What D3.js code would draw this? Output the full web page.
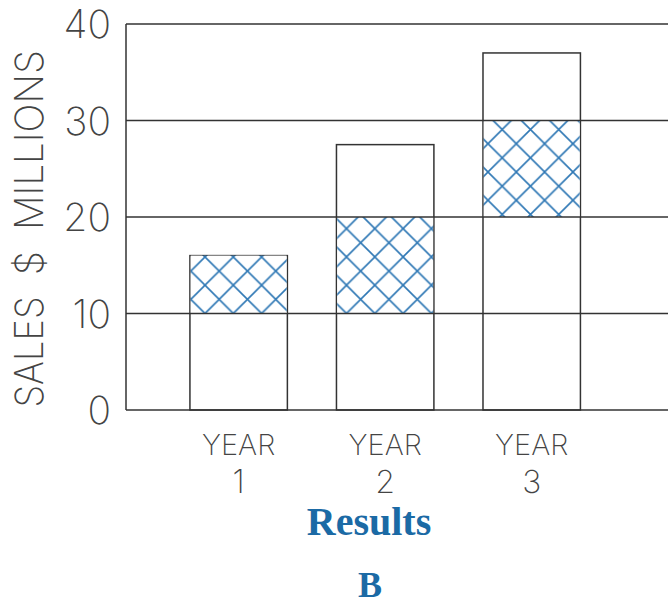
<!DOCTYPE html>
<html>
<head>
<meta charset="utf-8">
<script src="https://cdn.jsdelivr.net/npm/d3@7"></script>
<style>
  body { margin: 0; background: #fff; }
  svg { display: block; }
</style>
</head>
<body>
<div id="chart"></div>
<script>
// Chart data
const years = ["1", "2", "3"];
const totals = [16, 27.5, 37];
const hatchLow = [10, 10, 20];
const hatchHigh = [16, 20, 30];
const yTicks = [0, 10, 20, 30, 40];

const width = 668;
const height = 603;
const lineColor = "#333";
const hatchColor = "#2f78b5";
const blue = "#1b6aa5";
const thinFont = "Inter, Lato, 'DejaVu Sans', sans-serif";

const svg = d3.select("#chart")
    .append("svg")
    .attr("width", width)
    .attr("height", height);

// Scales
const x = d3.scaleBand()
    .domain(years)
    .range([126, 668])
    .paddingInner(0.335)
    .paddingOuter(0.517)
    .align(0.422);

const y = d3.scaleLinear()
    .domain([0, 40])
    .range([410, 24]);

// Cross hatch pattern
const s = 28.3;
const pat = svg.append("defs")
    .append("pattern")
    .attr("id", "hatch")
    .attr("patternUnits", "userSpaceOnUse")
    .attr("x", 205)
    .attr("y", y(10))
    .attr("width", s)
    .attr("height", s);
pat.append("rect").attr("width", s).attr("height", s).attr("fill", "#fff");
pat.append("path")
    .attr("d", `M-1,-1L${s + 1},${s + 1}M${s + 1},-1L-1,${s + 1}`)
    .attr("stroke", hatchColor)
    .attr("stroke-width", 1.6)
    .attr("fill", "none");

const rows = years.map((d, i) => ({ year: d, total: totals[i], lo: hatchLow[i], hi: hatchHigh[i] }));

// Bars (outline)
svg.selectAll(".bar")
    .data(rows)
    .enter()
    .append("rect")
    .attr("class", "bar")
    .attr("x", d => x(d.year))
    .attr("y", d => y(d.total))
    .attr("width", x.bandwidth())
    .attr("height", d => y(0) - y(d.total))
    .attr("fill", "#fff")
    .attr("stroke", lineColor)
    .attr("stroke-width", 1.5);

// Hatched segments
svg.selectAll(".hatch")
    .data(rows)
    .enter()
    .append("rect")
    .attr("class", "hatch")
    .attr("x", d => x(d.year) + 0.75)
    .attr("y", d => y(d.hi))
    .attr("width", x.bandwidth() - 1.5)
    .attr("height", d => y(d.lo) - y(d.hi))
    .attr("fill", "url(#hatch)");

// Gridlines and axis frame
svg.selectAll(".grid")
    .data(yTicks)
    .enter()
    .append("line")
    .attr("class", "grid")
    .attr("x1", x.range()[0])
    .attr("x2", width)
    .attr("y1", d => y(d))
    .attr("y2", d => y(d))
    .attr("stroke", lineColor)
    .attr("stroke-width", 1.5);

svg.append("line")
    .attr("x1", x.range()[0])
    .attr("x2", x.range()[0])
    .attr("y1", y(40))
    .attr("y2", y(0))
    .attr("stroke", lineColor)
    .attr("stroke-width", 1.5);

// Y tick labels
svg.selectAll(".ytick")
    .data(yTicks)
    .enter()
    .append("text")
    .attr("class", "ytick")
    .attr("x", 111)
    .attr("y", d => y(d))
    .attr("dy", "0.36em")
    .attr("text-anchor", "end")
    .attr("font-family", thinFont)
    .attr("font-weight", 200)
    .attr("font-size", "39px")
    .attr("fill", "#444")
    .text(d => d);

// Y axis label, in three pieces to keep the wide gaps round "$"
const yLabelParts = [
    { t: "SALES", c: 352, len: 111 },
    { t: "$", c: 263, len: null },
    { t: "MILLIONS", c: 140, len: 180 }
];
svg.selectAll(".ylabel")
    .data(yLabelParts)
    .enter()
    .append("text")
    .attr("class", "ylabel")
    .attr("transform", "rotate(-90)")
    .attr("x", d => -d.c)
    .attr("y", 43)
    .attr("text-anchor", "middle")
    .attr("font-family", thinFont)
    .attr("font-weight", 200)
    .attr("font-size", "39px")
    .attr("fill", "#444")
    .each(function (d) {
        if (d.len) d3.select(this).attr("textLength", d.len).attr("lengthAdjust", "spacingAndGlyphs");
    })
    .text(d => d.t);

// X labels
const xl = svg.selectAll(".xlabel")
    .data(years)
    .enter()
    .append("g")
    .attr("class", "xlabel")
    .attr("transform", d => `translate(${x(d) + x.bandwidth() / 2},0)`)
    .attr("font-family", thinFont)
    .attr("font-weight", 200)
    .attr("fill", "#444")
    .attr("text-anchor", "middle");

xl.append("text")
    .attr("y", 455)
    .attr("font-size", "29px")
    .text("YEAR");

xl.append("text")
    .attr("y", 493)
    .attr("font-size", "32px")
    .text(d => d);

// Caption
svg.append("text")
    .attr("x", 369)
    .attr("y", 535)
    .attr("text-anchor", "middle")
    .attr("font-family", "'Liberation Serif', 'DejaVu Serif', serif")
    .attr("font-weight", "bold")
    .attr("font-size", "40px")
    .attr("fill", blue)
    .text("Results");

svg.append("text")
    .attr("x", 370)
    .attr("y", 597)
    .attr("text-anchor", "middle")
    .attr("font-family", "'Liberation Serif', 'DejaVu Serif', serif")
    .attr("font-weight", "bold")
    .attr("font-size", "36px")
    .attr("fill", blue)
    .text("B");
</script>
</body>
</html>
